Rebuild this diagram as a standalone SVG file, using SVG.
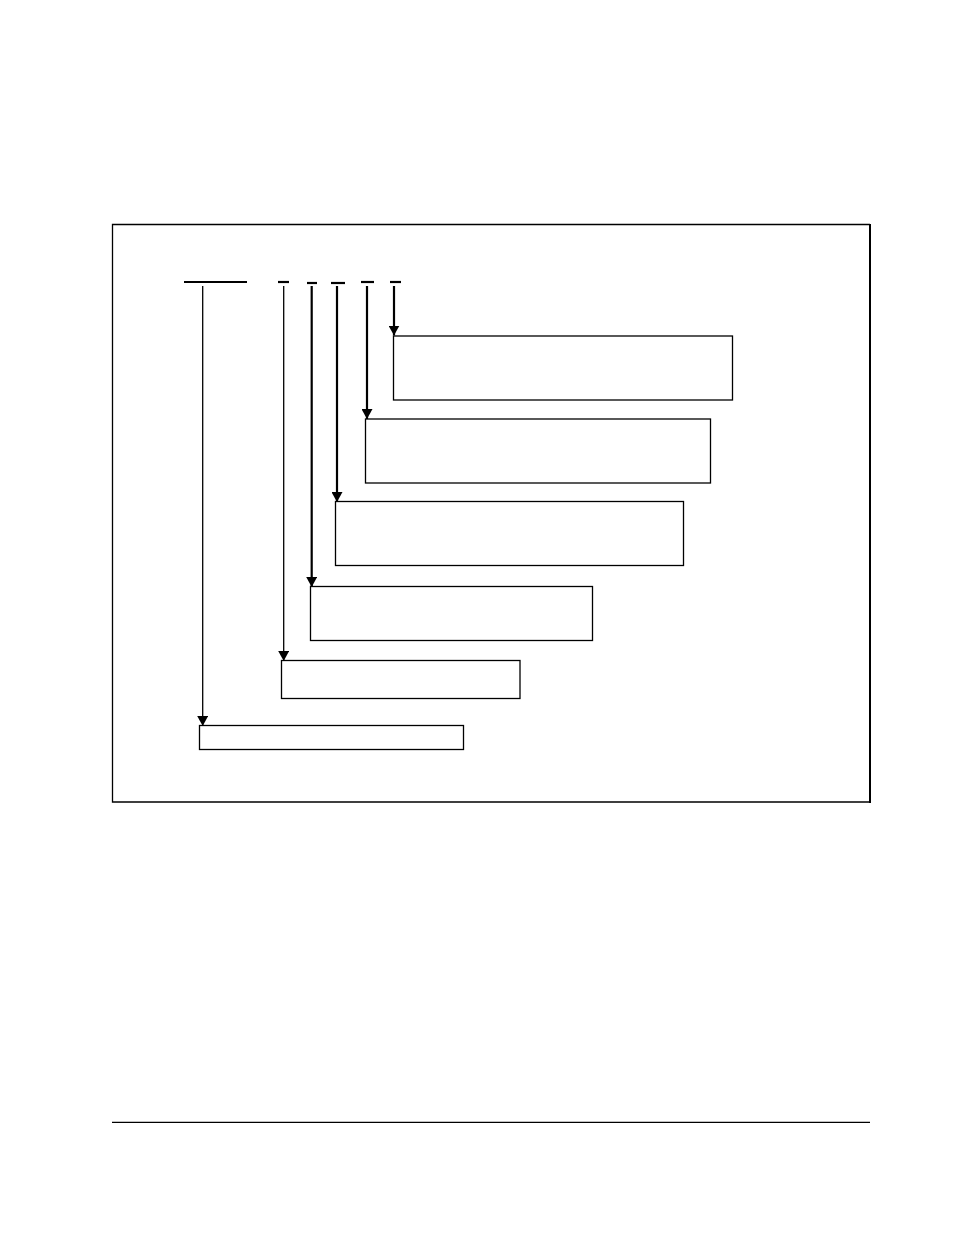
<svg xmlns="http://www.w3.org/2000/svg" width="954" height="1235" viewBox="0 0 954 1235">
<defs>
<style>
.box{fill:#fff;stroke:#000;stroke-width:1.3}
.thin{stroke:#000;stroke-width:1.3;fill:none}
.thick{stroke:#000;stroke-width:2.2;fill:none}
.bar{stroke:#000;stroke-width:2.2}
</style>
<marker id="arr" markerWidth="10" markerHeight="11" refX="10" refY="5.5" orient="auto" markerUnits="userSpaceOnUse" viewBox="0 0 10 11">
<path d="M0,0 L10,5.5 L0,11 Z" fill="#000"/>
</marker>
</defs>
<rect width="954" height="1235" fill="#fff"/>
<g id="frame">
<path d="M870,224.5 H112.5 V802 H870" class="thin"/>
<line x1="870" y1="224" x2="870" y2="803" stroke="#000" stroke-width="2"/>
</g>
<g id="bars">
<line x1="184" y1="282" x2="247" y2="282" class="bar"/>
<line x1="278" y1="282" x2="289" y2="282" class="bar"/>
<line x1="307" y1="283" x2="317" y2="283" class="bar"/>
<line x1="331" y1="283" x2="345" y2="283" class="bar"/>
<line x1="361" y1="282" x2="374" y2="282" class="bar"/>
<line x1="390" y1="282" x2="401" y2="282" class="bar"/>
</g>
<g id="connectors">
<line x1="202.7" y1="286" x2="202.7" y2="726" class="thin" marker-end="url(#arr)"/>
<line x1="283.7" y1="286" x2="283.7" y2="661" class="thin" marker-end="url(#arr)"/>
<line x1="311.7" y1="286" x2="311.7" y2="587" class="thick" marker-end="url(#arr)"/>
<line x1="337" y1="286" x2="337" y2="502" class="thick" marker-end="url(#arr)"/>
<line x1="367" y1="286" x2="367" y2="419" class="thick" marker-end="url(#arr)"/>
<line x1="394" y1="286" x2="394" y2="335.5" class="thick" marker-end="url(#arr)"/>
</g>
<g id="node1"><rect x="393.5" y="336" width="339" height="64" class="box"/></g>
<g id="node2"><rect x="365.5" y="419" width="345" height="64" class="box"/></g>
<g id="node3"><rect x="335.5" y="501.5" width="348" height="64" class="box"/></g>
<g id="node4"><rect x="310.5" y="586.5" width="282" height="54" class="box"/></g>
<g id="node5"><rect x="281.5" y="660.5" width="238.5" height="38" class="box"/></g>
<g id="node6"><rect x="199.5" y="725.5" width="264" height="24" class="box"/></g>
<g id="footer">
<line x1="112" y1="1122.3" x2="870" y2="1122.3" stroke="#000" stroke-width="1.3"/>
</g>
</svg>
